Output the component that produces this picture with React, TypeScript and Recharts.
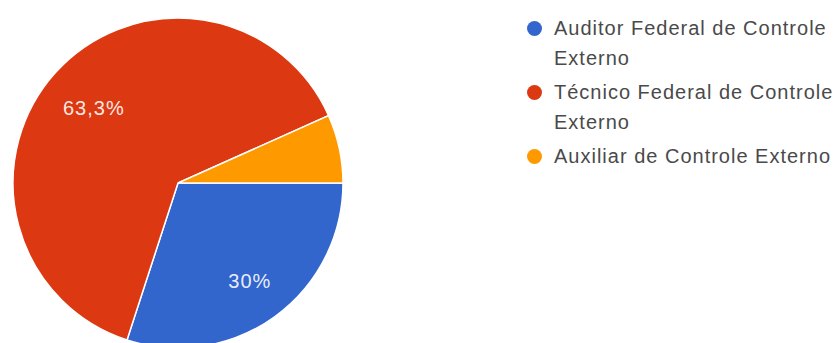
import React from "react";
import { PieChart, Pie, Cell, Legend } from "recharts";

const categories = [
  "Auditor Federal de Controle Externo",
  "Técnico Federal de Controle Externo",
  "Auxiliar de Controle Externo",
];
const values = [30, 63.3, 6.7];
const labels = ["30%", "63,3%", ""];
const colors = ["#3366cc", "#dc3912", "#ff9900"];

const data = categories.map((name, i) => ({ name, value: values[i], label: labels[i] }));

const FONT = "'Liberation Sans', Arial, sans-serif";
const RADIAN = Math.PI / 180;

const renderLabel = (props: any) => {
  const { cx, cy, midAngle, outerRadius, index } = props;
  const text = labels[index];
  if (!text) return null;
  const r = outerRadius * 0.71;
  const x = cx + r * Math.cos(-midAngle * RADIAN);
  const y = cy + r * Math.sin(-midAngle * RADIAN);
  return (
    <text
      x={x + 3}
      y={y + 3}
      fill="#ffffff"
      fillOpacity={0.9}
      textAnchor="middle"
      dominantBaseline="central"
      fontFamily={FONT}
      fontSize={20}
      letterSpacing={1}
    >
      {text}
    </text>
  );
};

const renderLegend = () => (
  <div style={{ fontFamily: FONT, fontSize: 20, letterSpacing: 1, color: "#4a4a4a" }}>
    {categories.map((name, i) => (
      <div
        key={name}
        style={{ position: "relative", paddingLeft: 32, width: 290, lineHeight: "30px", marginBottom: 4 }}
      >
        <span
          style={{
            position: "absolute",
            left: 5,
            top: 7.5,
            width: 15,
            height: 15,
            borderRadius: "50%",
            background: colors[i],
          }}
        />
        {name}
      </div>
    ))}
  </div>
);

export default function App() {
  return (
    <div style={{ width: 837, height: 343, background: "#ffffff", overflow: "hidden" }}>
      <style>{`body{margin:0;background:#fff}`}</style>
      <PieChart width={837} height={343} margin={{ top: 0, right: 0, bottom: 0, left: 0 }}>
        <Pie
          data={data}
          dataKey="value"
          nameKey="name"
          cx={178}
          cy={183}
          outerRadius={165}
          startAngle={0}
          endAngle={-360}
          stroke="#ffffff"
          strokeWidth={1.5}
          label={renderLabel}
          labelLine={false}
          isAnimationActive={false}
        >
          {data.map((d, i) => (
            <Cell key={d.name} fill={colors[i]} />
          ))}
        </Pie>
        <Legend
          content={renderLegend}
          wrapperStyle={{ position: "absolute", left: 522, top: 13, width: 322 }}
        />
      </PieChart>
    </div>
  );
}
